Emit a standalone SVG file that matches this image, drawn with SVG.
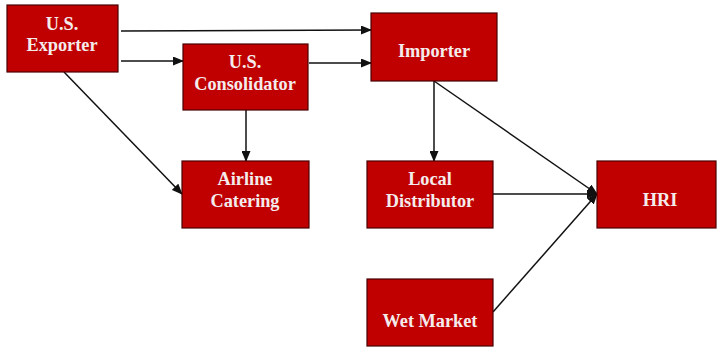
<svg xmlns="http://www.w3.org/2000/svg" width="717" height="347" viewBox="0 0 717 347">
<style>
.box{fill:#c00000;stroke:#4a0000;stroke-width:1.2}
.t{font-family:"Liberation Serif","Times New Roman",serif;font-weight:bold;font-size:18.3px;fill:#f4ecec;text-anchor:middle}
.c{stroke:#111;stroke-width:1.5;fill:none;marker-end:url(#ah)}
</style>
<defs>
<marker id="ah" markerWidth="11" markerHeight="9" refX="10" refY="4.5" orient="auto" markerUnits="userSpaceOnUse">
<path d="M0,0 L11,4.5 L0,9 Z" fill="#111"/>
</marker>
</defs>
<rect width="717" height="347" fill="#fff"/>
<g id="connectors">
<line class="c" x1="121" y1="31" x2="371" y2="30"/>
<line class="c" x1="121" y1="61" x2="183" y2="61"/>
<line class="c" x1="309" y1="63" x2="371" y2="63"/>
<line class="c" x1="64" y1="72" x2="182" y2="194"/>
<line class="c" x1="246" y1="110" x2="246" y2="161"/>
<line class="c" x1="434" y1="81" x2="434" y2="161"/>
<line class="c" x1="434" y1="81" x2="597" y2="194"/>
<line class="c" x1="493" y1="194" x2="597" y2="194"/>
<line class="c" x1="493" y1="312" x2="597" y2="194"/>
</g>
<g id="exporter"><rect class="box" x="7" y="5" width="111" height="67"/><text class="t" x="62" y="30">U.S.</text><text class="t" x="62" y="51">Exporter</text></g>
<g id="consolidator"><rect class="box" x="183" y="44" width="125" height="66"/><text class="t" x="245" y="68">U.S.</text><text class="t" x="245" y="90">Consolidator</text></g>
<g id="importer"><rect class="box" x="371" y="13" width="126" height="68"/><text class="t" x="434" y="57">Importer</text></g>
<g id="airline"><rect class="box" x="182" y="161" width="127" height="67"/><text class="t" x="245" y="185">Airline</text><text class="t" x="245" y="207">Catering</text></g>
<g id="distributor"><rect class="box" x="367" y="161" width="126" height="67"/><text class="t" x="430" y="185">Local</text><text class="t" x="430" y="207">Distributor</text></g>
<g id="hri"><rect class="box" x="597" y="161" width="119" height="67"/><text class="t" x="660" y="206">HRI</text></g>
<g id="wetmarket"><rect class="box" x="367" y="279" width="126" height="67"/><text class="t" x="430" y="327">Wet Market</text></g>
</svg>
